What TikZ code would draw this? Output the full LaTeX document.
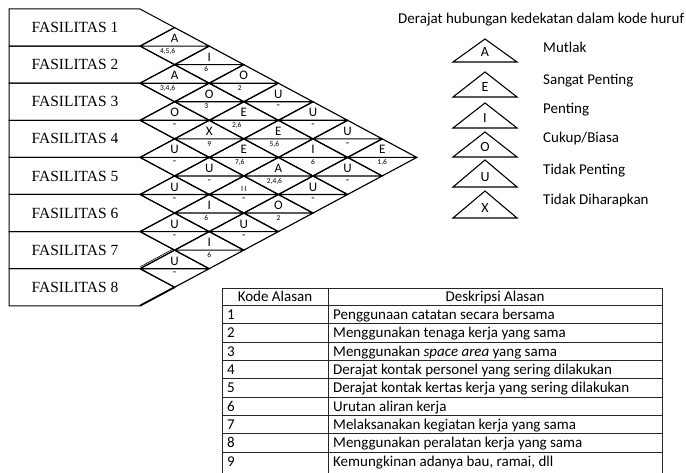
\documentclass[tikz,border=0pt]{standalone}
\usepackage{fontspec}
\setmainfont{Carlito}
\newfontfamily\tnr{Liberation Serif}
\tikzset{
  cell/.style={line width=1.15pt, line join=miter},
  fbox/.style={line width=1pt},
  up/.style={font=\fontsize{13}{13}\selectfont, anchor=base, inner sep=0pt},
  lo/.style={font=\fontsize{7.5}{7.5}\selectfont, anchor=base, inner sep=0pt},
  fas/.style={font=\tnr\fontsize{15.5}{15.5}\selectfont, inner sep=0pt},
  txt/.style={font=\fontsize{15}{15}\selectfont, inner sep=0pt, anchor=base west},
  txtc/.style={font=\fontsize{15}{15}\selectfont, inner sep=0pt, anchor=base},
  legtri/.style={line width=1.1pt},
  leglet/.style={font=\fontsize{14}{14}\selectfont, inner sep=0pt},
  tline/.style={line width=0.8pt, draw=black!85}
}
\newcommand\lowdash{{\fontsize{11}{11}\selectfont -}}
% \relcell{i}{j}{upper}{lower}{dx of lower}
\newcommand\relcell[5]{%
  \pgfmathsetmacro\rcx{140+34.6*(#2-#1)}%
  \pgfmathsetmacro\rcy{9+18.55*(#1+#2-1)}%
  \draw[cell] (\rcx-34.6,\rcy) -- (\rcx,\rcy-18.55) -- (\rcx+34.6,\rcy) -- (\rcx,\rcy+18.55) -- cycle
              (\rcx-34.6,\rcy) -- (\rcx+34.6,\rcy);
  \node[up] (u#1#2) at (\rcx,\rcy-3.4) {#3};
  \node[lo] (l#1#2) at (\rcx+#5,\rcy+7.2) {#4};
}
\begin{document}
\begin{tikzpicture}[x=1pt,y=-1pt]
\useasboundingbox (0,0) rectangle (686,473);
% facility boxes
\foreach \i in {1,...,8}{
  \pgfmathsetmacro\ftop{9+37.1*(\i-1)}
  \pgfmathsetmacro\fmid{\ftop+18.55}
  \pgfmathsetmacro\fbot{\ftop+37.1}
  \draw[fbox] (9,\ftop) -- (140,\ftop) -- (174.6,\fmid) -- (140,\fbot) -- (9,\fbot) -- cycle;
  \node[fas] (f\i) at (75,\fmid) {FASILITAS \i};
}
% relationship cells
\relcell{1}{2}{A}{4,5,6}{-7}
\relcell{1}{3}{I}{6}{-3}
\relcell{1}{4}{O}{2}{-4}
\relcell{1}{5}{U}{\lowdash}{0}
\relcell{1}{6}{U}{\lowdash}{0}
\relcell{1}{7}{U}{\lowdash}{0}
\relcell{1}{8}{E}{1,6}{0}
\relcell{2}{3}{A}{3,4,6}{-7}
\relcell{2}{4}{O}{3}{-3}
\relcell{2}{5}{E}{2,6}{-7}
\relcell{2}{6}{E}{5,6}{-4}
\relcell{2}{7}{I}{6}{0}
\relcell{2}{8}{U}{\lowdash}{0}
\relcell{3}{4}{O}{\lowdash}{0}
\relcell{3}{5}{X}{9}{0}
\relcell{3}{6}{E}{7,6}{-4}
\relcell{3}{7}{A}{2,4,6}{-4}
\relcell{3}{8}{U}{\lowdash}{0}
\relcell{4}{5}{U}{\lowdash}{0}
\relcell{4}{6}{U}{\lowdash}{0}
\relcell{4}{7}{{\fontsize{8}{8}\selectfont I\,I}}{\lowdash}{0}
\relcell{4}{8}{O}{2}{0}
\relcell{5}{6}{U}{\lowdash}{0}
\relcell{5}{7}{I}{6}{-3}
\relcell{5}{8}{U}{\lowdash}{0}
\relcell{6}{7}{U}{\lowdash}{0}
\relcell{6}{8}{I}{6}{0}
\relcell{7}{8}{U}{\lowdash}{0}
% small artefacts of the original
\draw[line width=0.6pt] (140.5,266.6) -- (173.2,249.0);
\draw[line width=1.8pt] (140,305.7) -- (174.6,287.2);
% legend
\node[txt] (ttl) at (398,24) {Derajat hubungan kedekatan dalam kode huruf};
\foreach \kk/\tap/\tbase/\tlet/\tlab/\tly in {1/39/62/A/Mutlak/48, 2/72/97/E/Sangat Penting/80, 3/103/128/I/Penting/109, 4/132/157/O/Cukup\slash Biasa/138, 5/160/187/U/Tidak Penting/170, 6/191/218/X/Tidak Diharapkan/200}{
  \draw[legtri] (453,\tbase) -- (485,\tap) -- (517,\tbase) -- cycle;
  \node[leglet] (lt\kk) at (485,\tbase-9.5) {\tlet};
  \node[txt] (ll\kk) at (543,\tly+5) {\tlab};
}
% table
\draw[tline] (222,288) -- (662,288);
\draw[tline] (222,305.5) -- (662,305.5);
\foreach \k in {1,...,8}{
  \draw[tline] (222,305.5+18.3*\k) -- (662,305.5+18.3*\k);
}
\draw[tline] (222,288) -- (222,480);
\draw[tline] (328,288) -- (328,480);
\draw[tline] (662,288) -- (662,480);
\node[txtc] (h1) at (275,301.8) {Kode Alasan};
\node[txtc] (h2) at (495,301.8) {Deskripsi Alasan};
\foreach \k/\desc in {1/Penggunaan catatan secara bersama,
  2/Menggunakan tenaga kerja yang sama,
  3/{Menggunakan \textit{space area} yang sama},
  4/Derajat kontak personel yang sering dilakukan,
  5/Derajat kontak kertas kerja yang sering dilakukan,
  6/Urutan aliran kerja,
  7/Melaksanakan kegiatan kerja yang sama,
  8/Menggunakan peralatan kerja yang sama,
  9/{Kemungkinan adanya bau, ramai, dll}}{
  \node[txt] (k\k) at (227,305.5+18.3*\k-9.15+5) {\k};
  \node[txt] (d\k) at (333,305.5+18.3*\k-9.15+5) {\desc};
}
\end{tikzpicture}
\end{document}
